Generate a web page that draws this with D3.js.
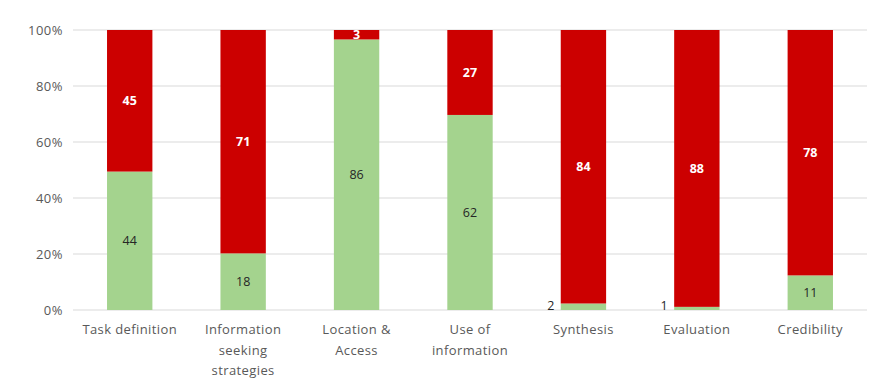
<!DOCTYPE html>
<html>
<head>
<meta charset="utf-8">
<script src="https://cdn.jsdelivr.net/npm/d3@7"></script>
<style>
  html, body { margin: 0; padding: 0; background: #fff; }
  svg { display: block; }
</style>
</head>
<body>
<svg id="chart" width="872" height="380"></svg>
<script>
// Stage labels (wrapped into lines as shown under each column)
const categories = [
  ["Task definition"],
  ["Information", "seeking", "strategies"],
  ["Location &", "Access"],
  ["Use of", "information"],
  ["Synthesis"],
  ["Evaluation"],
  ["Credibility"]
];
// Counts per stage
const greenValues = [44, 18, 86, 62, 2, 1, 11];
const redValues   = [45, 71, 3, 27, 84, 88, 78];
const yTicks = [0, 0.2, 0.4, 0.6, 0.8, 1.0];

const svg = d3.select("#chart");
const margin = { left: 73, right: 5, top: 30, bottom: 70 };
const W = 872, H = 380;

const x = d3.scaleBand()
  .domain(d3.range(categories.length))
  .range([margin.left, W - margin.right])
  .paddingInner(0.6)
  .paddingOuter(0.3);

const y = d3.scaleLinear()
  .domain([0, 1])
  .range([H - margin.bottom, margin.top]);

const font = "'Open Sans', 'Noto Sans', sans-serif";

// Gridlines
svg.append("g")
  .selectAll("line")
  .data(yTicks)
  .join("line")
  .attr("x1", margin.left)
  .attr("x2", W - margin.right)
  .attr("y1", d => y(d))
  .attr("y2", d => y(d))
  .attr("stroke", "#d9d9d9")
  .attr("stroke-width", 1);

// Y axis labels
const yAxis = d3.axisLeft(y)
  .tickValues(yTicks)
  .tickFormat(d3.format(".0%"))
  .tickSize(0)
  .tickPadding(10);
const yg = svg.append("g")
  .attr("transform", `translate(${margin.left},0)`)
  .call(yAxis);
yg.select(".domain").remove();
yg.selectAll("text")
  .attr("font-family", font)
  .attr("font-size", 13)
  .attr("letter-spacing", 0.5)
  .attr("fill", "#595959");

// Stacked data as shares of each stage's total
const rows = categories.map((c, i) => {
  const total = greenValues[i] + redValues[i];
  return { i, g: greenValues[i], r: redValues[i], gs: greenValues[i] / total };
});

const bars = svg.append("g");
// Green (lower) segments
bars.selectAll("rect.g")
  .data(rows)
  .join("rect")
  .attr("class", "g")
  .attr("x", d => x(d.i))
  .attr("width", x.bandwidth())
  .attr("y", d => y(d.gs))
  .attr("height", d => y(0) - y(d.gs))
  .attr("fill", "#a4d38e");
// Red (upper) segments
bars.selectAll("rect.r")
  .data(rows)
  .join("rect")
  .attr("class", "r")
  .attr("x", d => x(d.i))
  .attr("width", x.bandwidth())
  .attr("y", d => y(1))
  .attr("height", d => y(d.gs) - y(1))
  .attr("fill", "#cc0000");

// Value labels: red segment
svg.append("g")
  .selectAll("text")
  .data(rows)
  .join("text")
  .attr("x", d => x(d.i) + x.bandwidth() / 2)
  .attr("y", d => (y(1) + y(d.gs)) / 2)
  .attr("dy", "0.35em")
  .attr("text-anchor", "middle")
  .attr("font-family", font)
  .attr("font-size", 12.5)
  .attr("font-weight", "bold")
  .attr("fill", "#ffffff")
  .text(d => d.r);

// Value labels: green segment (small segments labelled beside the bar)
svg.append("g")
  .selectAll("text")
  .data(rows)
  .join("text")
  .each(function (d) {
    const small = y(0) - y(d.gs) < 14;
    d3.select(this)
      .attr("x", small ? x(d.i) - 10 : x(d.i) + x.bandwidth() / 2)
      .attr("y", small ? y(0) - 4 : (y(0) + y(d.gs)) / 2)
      .attr("dy", "0.35em")
      .attr("text-anchor", "middle");
  })
  .attr("font-family", font)
  .attr("font-size", 12.5)
  .attr("fill", "#262626")
  .text(d => d.g);

// Category labels
const xl = svg.append("g")
  .selectAll("text")
  .data(categories)
  .join("text")
  .attr("x", (d, i) => x(i) + x.bandwidth() / 2)
  .attr("y", y(0) + 24)
  .attr("text-anchor", "middle")
  .attr("font-family", font)
  .attr("font-size", 13)
  .attr("letter-spacing", 0.4)
  .attr("fill", "#595959");
xl.selectAll("tspan")
  .data(d => d)
  .join("tspan")
  .attr("x", function () { return d3.select(this.parentNode).attr("x"); })
  .attr("dy", (d, j) => j === 0 ? 0 : 20.5)
  .text(d => d);
</script>
</body>
</html>
